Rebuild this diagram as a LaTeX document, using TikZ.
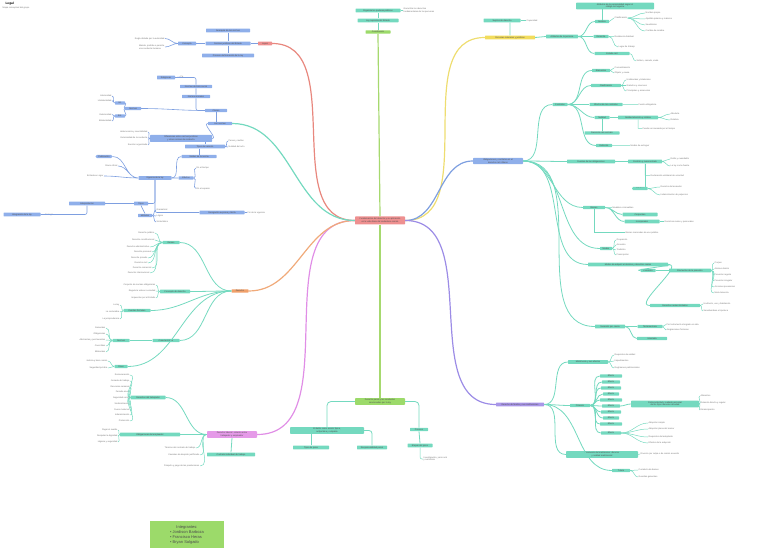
\documentclass[tikz,border=0pt]{standalone}
\usepackage{fontspec}
\setmainfont{Liberation Sans}
\usetikzlibrary{positioning}
\definecolor{tealc}{HTML}{74D9BF}
\definecolor{bluec}{HTML}{8FAFEA}
\definecolor{bluel}{HTML}{7E9FE0}
\definecolor{redc}{HTML}{EE9090}
\definecolor{redl}{HTML}{E8877E}
\definecolor{yelc}{HTML}{F2DC5C}
\definecolor{yell}{HTML}{EEDD70}
\definecolor{purc}{HTML}{A996E8}
\definecolor{purl}{HTML}{9C8CE6}
\definecolor{vioc}{HTML}{E59AE8}
\definecolor{viol}{HTML}{E08EE6}
\definecolor{orac}{HTML}{F0A06A}
\definecolor{oral}{HTML}{F0AA7A}
\definecolor{grec}{HTML}{9CDA6A}
\definecolor{grel}{HTML}{A6D96E}
\tikzset{
  tx/.style={font=\fontsize{2.2}{2.7}\selectfont},
  box/.style={tx, inner sep=0.9pt, rounded corners=0.6pt, text=black!70, align=center},
  tnode/.style={box, fill=tealc},
  bnode/.style={box, fill=bluec},
  leaf/.style={tx, inner sep=0.5pt, text=black!55, align=left},
  mainl/.style={line width=1.2pt},
  tline/.style={draw=tealc, line width=0.8pt},
  bline/.style={draw=bluel, line width=0.6pt},
  lline/.style={draw=tealc, line width=0.5pt},
}
\begin{document}
\begin{tikzpicture}[x=1pt,y=-1pt]
\useasboundingbox (0,0) rectangle (768,553);

% title
\node[tx, font=\fontsize{3.2}{3.8}\selectfont\bfseries, anchor=west] (tit) at (2,3.5) {Legal};
\node[leaf, anchor=west] (sub) at (2,7.5) {Mapa conceptual del grupo};

% center
\node[box, fill=redc, minimum width=50, minimum height=8] (c) at (380,220.5) {Fundamentos del derecho y su aplicaci\'on\\en la vida diaria del ciudadano com\'un};

% ---- red branch
\node[box, fill=redc, minimum width=14] (r1) at (265,43.5) {Leyes};
\node[bnode, minimum width=45] (r2) at (228,43.5) {Normas jur\'idicas del Estado};
\node[bnode, minimum width=44] (r3) at (228,30.5) {Jerarqu\'ia de las normas};
\node[bnode, minimum width=52] (r4) at (228,55.5) {Proceso de formaci\'on de la ley};
\node[bnode, minimum width=18] (r5) at (187,43.5) {Concepto};
\node[leaf, anchor=east] (r6) at (165,38.5) {Regla dictada por la autoridad};
\node[leaf, anchor=east] (r7) at (165,47) {Manda, proh\'ibe o permite\\una conducta humana};
\draw[redl, mainl] (c.west) to[out=180,in=0] (r1.east);
\draw[bline] (r1.west) -- (r2.east) (r3.south) -- (r2.north) (r2.south) -- (r4.north) (r2.west) -- (r5.east);
\draw[bline] (r5.west) to[out=180,in=0] (r6.east) (r5.west) to[out=180,in=0] (r7.east);

% ---- green branch (top)
\node[box, fill=grec, minimum width=25] (g1) at (378,32) {Constituci\'on};
\node[tnode, minimum width=41] (g2) at (378,20.5) {Ley suprema del Estado};
\node[tnode, minimum width=45] (g3) at (378,10.5) {Organiza los poderes p\'ublicos};
\node[leaf, anchor=west] (g4) at (403,10.5) {Garantiza los derechos\\fundamentales de las personas};
\draw[grel, mainl] (c.north) -- (g1.south);
\draw[tline] (g1.north) -- (g2.south) (g2.north) -- (g3.south);
\draw[lline] (g3.east) -- (g4.west);

% ---- yellow branch
\node[box, fill=yelc, minimum width=50] (y1) at (510,37.5) {Personas naturales y jur\'idicas};
\node[tnode, minimum width=37] (y2) at (502,20.5) {Sujetos de derecho};
\node[leaf, anchor=west] (y2l) at (526,20.5) {Capacidad};
\node[tnode, minimum width=32] (y3) at (562,36.5) {Atributos de la persona};
\node[tnode, minimum width=14] (y4) at (602,21.5) {Nombre};
\node[tnode, minimum width=78, minimum height=6] (y5) at (615,6) {Atributos de la personalidad seg\'un el\\c\'odigo civil vigente};
\node[leaf, anchor=west] (y4a) at (614,18) {Clasificaci\'on};
\foreach \n/\y/\t in {a/13/{Nombre propio},b/19/{Apellido paterno y materno},c/25/{Seud\'onimo},d/31/{Cambio de nombre}}
  \node[leaf, anchor=west] (y4\n l) at (645,\y) {\t};
\node[tnode, minimum width=15] (y6) at (601,36.5) {Domicilio};
\node[leaf, anchor=west] (y6a) at (614,36.5) {Residencia habitual};
\node[leaf, anchor=west] (y6b) at (618,47) {Lugar de trabajo};
\node[tnode, minimum width=35] (y7) at (612,53.5) {Estado civil};
\node[leaf, anchor=west] (y7a) at (636,61) {Soltero, casado, viudo};
\draw[yell, mainl] (c.east) to[out=0,in=180] (y1.west);
\draw[tline] (y1.north) -- (y1.north |- y2.south) (y1.east) -- (y3.west);
\draw[lline] (y2.east) -- (y2l.west);
\draw[tline] (y3.east) to[out=0,in=180] (y4.west) (y3.east) -- (y6.west) (y3.east) to[out=0,in=180] (y7.west);
\draw[tline] (y4.north) -- (y4.north |- y5.south);
\draw[lline] (y4.east) -- (y4a.west) (y6.east) -- (y6a.west) (y6.east) to[out=0,in=180] (y6b.west) (y7.east) to[out=0,in=180] (y7a.west);
\foreach \n in {a,b,c,d} \draw[lline] (y4a.east) to[out=0,in=180] (y4\n l.west);

% ---- blue branch (right)
\node[bnode, minimum width=50, minimum height=5.5] (bb) at (498,161) {Obligaciones y contratos en el\\derecho civil chileno};
\node[tnode, minimum width=15] (k1) at (560,104.5) {Contratos};
\node[tnode, minimum width=18] (k7) at (601,70.5) {Elementos};
\node[leaf, anchor=west] (k7a) at (614,68) {Consentimiento};
\node[leaf, anchor=west] (k7b) at (614,73) {Objeto y causa};
\node[tnode, minimum width=30] (k8) at (606,85.5) {Clasificaci\'on};
\foreach \n/\y/\t in {a/80/{Unilaterales y bilaterales},b/85.5/{Gratuitos y onerosos},c/91/{Principales y accesorios}}
  \node[leaf, anchor=west] (k8\n) at (626,\y) {\t};
\node[tnode, minimum width=33] (k2) at (606,104.5) {Efectos de los contratos};
\node[leaf, anchor=west] (k2a) at (638,104.5) {Fuerza obligatoria};
\node[tnode, minimum width=15] (k3) at (602,117.5) {Nulidad};
\node[tnode, minimum width=40] (k4) at (638,117.5) {Nulidad absoluta y relativa};
\node[leaf, anchor=west] (k4a) at (670,114) {Absoluta};
\node[leaf, anchor=west] (k4b) at (670,120) {Relativa};
\node[leaf, anchor=west] (k4c) at (642,128.5) {Puede ser saneada por el tiempo};
\node[tnode, minimum width=35] (k5) at (602,133) {Rescisi\'on del contrato};
\node[tnode, minimum width=16] (k6) at (604,145.5) {Extinci\'on};
\node[leaf, anchor=west] (k6a) at (630,145.5) {Modos de extinguir};
\node[tnode, minimum width=48] (k9) at (591,161.5) {Fuentes de las obligaciones};
\node[tnode, minimum width=34] (k10) at (645,161.5) {Contrato y cuasicontrato};
\node[leaf, anchor=west] (k10a) at (670,159) {Delito y cuasidelito};
\node[leaf, anchor=west] (k10b) at (670,166) {La ley como fuente};
\node[leaf, anchor=west] (k10c) at (650,175.5) {Declaraci\'on unilateral de voluntad};
\node[tnode, minimum width=15] (k11) at (640,188.5) {Efectos};
\node[leaf, anchor=west] (k11a) at (660,187) {Derecho del acreedor};
\node[leaf, anchor=west] (k11b) at (660,195) {Indemnizaci\'on de perjuicios};
\node[tnode, minimum width=22] (k12) at (594,207.5) {Bienes};
\node[leaf, anchor=west] (k13) at (612,207.5) {Muebles e inmuebles};
\node[tnode, minimum width=35] (k14) at (640,214.5) {Corporales};
\node[tnode, minimum width=35] (k15) at (642,221.5) {Incorporales};
\node[leaf, anchor=west] (k15a) at (664,221.5) {Derechos reales y personales};
\node[leaf, anchor=west] (k15b) at (625,232.5) {Bienes nacionales de uso p\'ublico};
\node[tnode, minimum width=80] (k16) at (628,264.5) {Modos de adquirir el dominio y derechos reales};
\node[tnode, minimum width=12] (k17) at (606,248.5) {Modos};
\foreach \n/\y/\t in {a/240/{Ocupaci\'on},b/245/{Accesi\'on},c/250/{Tradici\'on},d/255/{Prescripci\'on}}
  \node[leaf, anchor=west] (k17\n) at (616,\y) {\t};
\node[tnode, minimum width=15] (k18) at (648,270.5) {Posesi\'on};
\node[tnode, minimum width=42] (k19) at (690,270.5) {Elementos de la posesi\'on};
\foreach \n/\y/\t in {a/263/{Corpus},b/269/{Animus domini},c/275/{Posesi\'on regular},d/281/{Posesi\'on irregular},e/287/{Acciones posesorias},f/293/{Mera tenencia}}
  \node[leaf, anchor=west] (k19\n) at (714,\y) {\t};
\node[tnode, minimum width=50] (k20) at (675,305.5) {Derechos reales limitados};
\node[leaf, anchor=west] (k20a) at (703,304) {Usufructo, uso y habitaci\'on};
\node[leaf, anchor=west] (k20b) at (703,311) {Servidumbres e hipoteca};
\node[tnode, minimum width=30] (k21) at (610,326.5) {Sucesi\'on por causa};
\node[tnode, minimum width=25] (k22) at (650,326.5) {Testamentaria};
\node[leaf, anchor=west] (k22a) at (666,324.5) {Por testamento otorgado en vida};
\node[leaf, anchor=west] (k22b) at (666,330) {Asignaciones forzosas};
\node[tnode, minimum width=30] (k23) at (652,338.5) {Intestada};
\draw[bluel, mainl] (c.east) to[out=0,in=180] (bb.west);
\foreach \k in {k1,k9,k12,k16,k17,k21} \draw[tline] (bb.east) to[out=0,in=180] (\k.west);
\foreach \k in {k7,k8,k2,k3,k6} \draw[tline] (k1.east) to[out=0,in=180] (\k.west);
\draw[tline] (k3.east) -- (k4.west) (k3.south) -- (k5.north) (k9.east) -- (k10.west) (k10.south) |- (k11.west);
\draw[tline] (k12.east) to[out=0,in=180] (k14.west) (k12.east) to[out=0,in=180] (k15.west);
\draw[tline] (k16.east) to[out=0,in=180] (k18.west) (k16.east) to[out=0,in=180] (k20.west) (k18.east) -- (k19.west);
\draw[tline] (k21.east) -- (k22.west) (k21.east) to[out=0,in=180] (k23.west);
\draw[lline] (k7.east) to[out=0,in=180] (k7a.west) (k7.east) to[out=0,in=180] (k7b.west);
\foreach \n in {a,b,c} \draw[lline] (k8.east) to[out=0,in=180] (k8\n.west);
\draw[lline] (k2.east) -- (k2a.west) (k4.east) to[out=0,in=180] (k4a.west) (k4.east) to[out=0,in=180] (k4b.west) (k4.south) |- (k4c.west);
\draw[lline] (k6.east) -- (k6a.west) (k10.east) to[out=0,in=180] (k10a.west) (k10.east) to[out=0,in=180] (k10b.west) (k10.south) |- (k10c.west);
\draw[lline] (k11.east) to[out=0,in=180] (k11a.west) (k11.east) to[out=0,in=180] (k11b.west) (k12.east) -- (k13.west);
\draw[lline] (k15.east) -- (k15a.west) (k12.south) |- (k15b.west);
\foreach \n in {a,b,c,d} \draw[lline] (k17.east) to[out=0,in=180] (k17\n.west);
\foreach \n in {a,b,c,d,e,f} \draw[lline] (k19.east) to[out=0,in=180] (k19\n.west);
\draw[lline] (k20.east) to[out=0,in=180] (k20a.west) (k20.east) to[out=0,in=180] (k20b.west);
\draw[lline] (k22.east) to[out=0,in=180] (k22a.west) (k22.east) to[out=0,in=180] (k22b.west);

% ---- purple branch (right)
\node[box, fill=purc, minimum width=48] (pp) at (520,404.5) {Derecho de familia y sus instituciones};
\node[tnode, minimum width=40] (q1) at (588,362) {Matrimonio y sus efectos};
\foreach \n/\y/\t in {a/355/{Requisitos de validez},b/361/{Impedimentos},c/368/{Reg\'imenes patrimoniales}}
  \node[leaf, anchor=west] (q1\n) at (614,\y) {\t};
\node[tnode, minimum width=20] (q2) at (580,405.5) {Filiaci\'on};
\foreach \n/\y/\w in {a/376/22,b/382/18,c/388/20,d/394/16,e/400/22,f/406/18,g/412/20,h/418/16,i/424/22,j/433/20}
  \node[tnode, minimum width=\w] (q2\n) at (611,\y) {Efecto};
\node[tnode, minimum width=68, minimum height=5.5] (q3) at (665,404) {Patria potestad y cuidado personal\\de los hijos menores de edad};
\foreach \n/\y/\t in {a/396/{Alimentos},b/403/{Relaci\'on directa y regular},c/410/{Emancipaci\'on}}
  \node[leaf, anchor=west] (q3\n) at (700,\y) {\t};
\foreach \n/\y/\t in {a/423/{Adopci\'on simple},b/429/{Adopci\'on plena del menor},c/437/{Requisitos del adoptante},d/443/{Efectos de la adopci\'on}}
  \node[leaf, anchor=west] (q4\n) at (648,\y) {\t};
\node[tnode, minimum width=72, minimum height=5.5] (q5) at (602,454.5) {Disoluci\'on del matrimonio: divorcio\\y nulidad matrimonial};
\node[leaf, anchor=west] (q5a) at (640,454) {Divorcio por culpa o de com\'un acuerdo};
\node[tnode, minimum width=18] (q6) at (621,470.5) {Tutela};
\node[leaf, anchor=west] (q6a) at (638,470) {Curadur\'ia de bienes};
\node[leaf, anchor=west] (q6b) at (638,477) {Guardas generales};
\draw[purl, mainl] (c.east) to[out=0,in=180] (pp.west);
\foreach \k in {q1,q2,q5,q6} \draw[tline] (pp.east) to[out=0,in=180] (\k.west);
\foreach \n in {a,b,c,d,e,f,g,h,i,j} \draw[tline] (q2.east) to[out=0,in=180] (q2\n.west);
\draw[tline] (q2f.east) to[out=0,in=180] (q3.west);
\foreach \n in {a,b,c} \draw[lline] (q1.east) to[out=0,in=180] (q1\n.west);
\foreach \n in {a,b,c} \draw[lline] (q3.east) to[out=0,in=180] (q3\n.west);
\foreach \n in {a,b,c,d} \draw[lline] (q2j.east) to[out=0,in=180] (q4\n.west);
\draw[lline] (q5.east) -- (q5a.west) (q6.east) to[out=0,in=180] (q6a.west) (q6.east) to[out=0,in=180] (q6b.west);

% ---- green branch (bottom)
\node[box, fill=grec, minimum width=50, minimum height=6] (s1) at (380,401.5) {Derecho penal y las conductas\\sancionadas por la ley};
\node[tnode, minimum width=74, minimum height=5.5] (s2) at (327,430.5) {El delito como acci\'on t\'ipica,\\antijur\'idica y culpable};
\node[tnode, minimum width=36] (s4) at (311,447.5) {Tipos de pena};
\node[tnode, minimum width=30] (s3) at (372,447.5) {Responsabilidad penal};
\node[tnode, minimum width=18] (s5) at (419,429.5) {Proceso};
\node[tnode, minimum width=25] (s6) at (420,445.5) {Etapas del juicio};
\node[leaf, anchor=west] (s7) at (423,459) {Investigaci\'on, juicio oral\\y sentencia};
\draw[grel, mainl] (c.south) -- (s1.north);
\draw[tline, rounded corners=4] (s1.west) -| (s2.north);
\draw[tline, rounded corners=4] (s1.east) -| (s5.north);
\draw[tline, rounded corners=3] (s2.east) -| (s3.north);
\draw[tline] (s2.south -| s4.north) -- (s4.north);
\draw[tline] (s5.south) -- (s6.north);
\draw[lline, rounded corners=2] (s6.south) |- (s7.west);

% ---- violet branch
\node[box, fill=vioc, minimum width=50, minimum height=6.5] (vv) at (232,434.5) {Derecho laboral: relaci\'on entre\\trabajador y empleador};
\node[tnode, minimum width=48] (v1) at (231,454.5) {Contrato individual de trabajo};
\node[tnode, minimum width=35] (v2) at (148,397.5) {Derechos del trabajador};
\foreach \n/\y/\t in {a/375/{Remuneraci\'on},b/381/{Jornada de trabajo},c/387/{Descanso semanal},d/392/{Feriado anual},e/398/{Seguridad social},f/404/{Sindicalizaci\'on},g/410/{Fuero maternal},h/415/{Indemnizaci\'on},i/421/{Protecci\'on}}
  \node[leaf, anchor=east] (v2\n) at (130,\y) {\t};
\node[tnode, minimum width=60] (v3) at (150,434.5) {Obligaciones del empleador};
\foreach \n/\y/\t in {a/430/{Pagar el sueldo},b/436/{Respetar la dignidad},c/442/{Higiene y seguridad}}
  \node[leaf, anchor=east] (v3\n) at (118,\y) {\t};
\node[leaf, anchor=east] (v4) at (196,448) {T\'ermino del contrato de trabajo};
\node[leaf, anchor=east] (v5) at (200,455) {Causales de despido justificado};
\node[leaf, anchor=east] (v6) at (200,466) {Finiquito y pago de las prestaciones};
\draw[viol, mainl] (c.west) to[out=180,in=0] (vv.east);
\draw[tline] (vv.south) -- (v1.north);
\foreach \k in {v2,v3} \draw[tline] (vv.west) to[out=180,in=0] (\k.east);
\foreach \k in {v4,v5,v6} \draw[lline] (vv.west) to[out=180,in=0] (\k.east);
\foreach \n in {a,b,c,d,e,f,g,h,i} \draw[lline] (v2.west) to[out=180,in=0] (v2\n.east);
\foreach \n in {a,b,c} \draw[lline] (v3.west) to[out=180,in=0] (v3\n.east);

% ---- orange branch
\node[box, fill=orac, minimum width=17] (oo) at (240,291) {Derecho};
\node[tnode, minimum width=17] (o1) at (171,242.5) {Ramas};
\foreach \n/\y/\x/\t in {a/233/155/{Derecho p\'ublico},b/240/155/{Derecho constitucional},c/247/150/{Derecho administrativo},d/252/152/{Derecho procesal},e/258/148/{Derecho privado},f/263/148/{Derecho civil},g/268/152/{Derecho comercial},h/273/150/{Derecho internacional}}
  \node[leaf, anchor=east] (o1\n) at (\x,\y) {\t};
\node[tnode, minimum width=30] (o2) at (175,291.5) {Concepto de derecho};
\foreach \n/\y/\t in {a/285/{Conjunto de normas obligatorias},b/291/{Regula la vida en sociedad},c/298/{Impuestas por el Estado}}
  \node[leaf, anchor=east] (o2\n) at (156,\y) {\t};
\node[tnode, minimum width=27] (o3) at (137,310.5) {Fuentes formales};
\foreach \n/\y/\t in {a/305/{La ley},b/312/{La costumbre},c/319/{La jurisprudencia}}
  \node[leaf, anchor=east] (o3\n) at (120,\y) {\t};
\node[tnode, minimum width=27] (o4) at (166,340.5) {Caracter\'isticas};
\node[tnode, minimum width=17] (o5) at (121,340.5) {Normas};
\foreach \n/\y/\t in {a/328/{Generales},b/334/{Obligatorias},c/340/{Abstractas y permanentes},d/346/{Coercibles},e/352/{Bilaterales}}
  \node[leaf, anchor=east] (o5\n) at (106,\y) {\t};
\node[tnode, minimum width=13] (o6) at (121,366.5) {Fines};
\node[leaf, anchor=east] (o6a) at (108,361) {Justicia y bien com\'un};
\node[leaf, anchor=east] (o6b) at (108,368) {Seguridad jur\'idica};
\draw[oral, mainl] (c.west) to[out=180,in=0] (oo.east);
\foreach \k in {o1,o2,o3,o4,o6} \draw[tline] (oo.west) to[out=180,in=0] (\k.east);
\draw[tline] (o4.west) -- (o5.east);
\foreach \n in {a,b,c,d,e,f,g,h} \draw[lline] (o1.west) to[out=180,in=0] (o1\n.east);
\foreach \n in {a,b,c} \draw[lline] (o2.west) to[out=180,in=0] (o2\n.east);
\foreach \n in {a,b,c} \draw[lline] (o3.west) to[out=180,in=0] (o3\n.east);
\foreach \n in {a,b,c,d,e} \draw[lline] (o5.west) to[out=180,in=0] (o5\n.east);
\draw[lline] (o6.west) to[out=180,in=0] (o6a.east) (o6.west) to[out=180,in=0] (o6b.east);

% ---- upper-left branch (blue sub map)
\node[bnode, minimum width=24] (uu) at (220,123.5) {Las normas};
\node[bnode, minimum width=22] (u1) at (216,110.5) {Clases};
\node[bnode, minimum width=28] (u2) at (196,96.5) {Normas morales};
\node[bnode, minimum width=32] (u3) at (196,86.5) {Normas de trato social};
\node[bnode, minimum width=18] (u4) at (166,77.5) {Religiosas};
\node[leaf, anchor=west] (u4a) at (180,77) {Fe};
\node[bnode, minimum width=16] (u5) at (133,108.5) {Normas};
\node[bnode, minimum width=10] (u6) at (120,103) {Int.};
\node[bnode, minimum width=10] (u7) at (120,116) {Ext.};
\node[leaf, anchor=east] (u6a) at (112,96) {Interioridad};
\node[leaf, anchor=east] (u6b) at (112,100.5) {Unilateralidad};
\node[leaf, anchor=east] (u7a) at (112,114.5) {Exterioridad};
\node[leaf, anchor=east] (u7b) at (112,121) {Bilateralidad};
\node[bnode, minimum width=62, minimum height=7] (u8) at (181,138.5) {Diferencias entre normas jur\'idicas\\y otras normas de conducta};
\foreach \n/\y/\t in {a/132/{Heteronom\'ia y coercibilidad},b/138/{Exterioridad de la conducta},c/145/{Sanci\'on organizada}}
  \node[leaf, anchor=east] (u8\n) at (148,\y) {\t};
\node[bnode, minimum width=40] (u9) at (205,146.5) {Tipos de sanci\'on};
\node[leaf, anchor=west] (u9a) at (228,141) {Penas y multas};
\node[leaf, anchor=west] (u9b) at (228,147) {Nulidad del acto};
\node[bnode, minimum width=35] (u10) at (199,156.5) {Validez de la norma};
\node[bnode, minimum width=33] (u11) at (155,178) {Vigencia de la ley};
\node[bnode, rounded corners=1.5pt, minimum width=17] (u12) at (104,156.5) {Publicaci\'on};
\node[leaf, anchor=east] (u13) at (118,166) {Diario oficial};
\node[leaf, anchor=east] (u14) at (104,176) {Entrada en vigor};
\node[bnode, minimum width=15] (u15) at (186,178) {Efectos};
\node[leaf, anchor=west] (u15a) at (196,168) {En el tiempo};
\node[leaf, anchor=west] (u15b) at (196,188.5) {En el espacio};
\node[bnode, minimum width=45] (u16) at (222,212.5) {Derogaci\'on expresa y t\'acita};
\node[leaf, anchor=west] (u16a) at (247,212.5) {Fin de la vigencia};
\node[bnode, minimum width=14] (u17) at (141,203.5) {Tipos};
\node[bnode, minimum width=36] (u18) at (87,203.5) {Interpretaci\'on};
\node[bnode, minimum width=14] (u19) at (145,215.5) {M\'etodos};
\foreach \n/\y/\t in {a/210/{Gramatical},b/216/{L\'ogico},c/222/{Sistem\'atico}}
  \node[leaf, anchor=west] (u19\n) at (156,\y) {\t};
\node[bnode, minimum width=37] (u20) at (22,214.5) {Integraci\'on de la ley};
\node[leaf, anchor=west] (u20a) at (44,214.5) {Analog\'ia};
\draw[tealc, mainl] (c.west) to[out=180,in=0] (uu.east);
\draw[bline] (uu.north -| u1.south) -- (u1.south);
\draw[bline, rounded corners=2] (u1.west) -| (u2.south) (u2.north) -- (u3.south) (u3.north) |- (u4.east);
\draw[bline] (u4.east) -- (u4a.west);
\draw[bline] (u1.west) to[out=180,in=0] (u5.east) (u5.west) to[out=180,in=0] (u6.east) (u5.west) to[out=180,in=0] (u7.east);
\draw[bline] (u6.west) to[out=180,in=0] (u6a.east) (u6.west) to[out=180,in=0] (u6b.east) (u7.west) to[out=180,in=0] (u7a.east) (u7.west) to[out=180,in=0] (u7b.east);
\draw[bline] (uu.west) to[out=180,in=0] (u8.east);
\foreach \n in {a,b,c} \draw[bline] (u8.west) to[out=180,in=0] (u8\n.east);
\draw[bline] (u8.south -| u9.north) -- (u9.north) (u9.south -| u10.north) -- (u10.north);
\draw[bline] (u9.east) to[out=0,in=180] (u9a.west) (u9.east) to[out=0,in=180] (u9b.west);
\draw[bline] (u10.west) to[out=180,in=0] (u11.east);
\draw[bline] (u11.west) to[out=180,in=0] (u12.east) (u11.west) to[out=180,in=0] (u13.east) (u11.west) to[out=180,in=0] (u14.east);
\draw[bline] (u11.east) -- (u15.west) (u15.east) to[out=0,in=180] (u15a.west) (u15.east) to[out=0,in=180] (u15b.west);
\draw[bline, rounded corners=2] (u11.south) |- (u16.west) (u16.east) -- (u16a.west);
\draw[bline, rounded corners=2] (u11.south) |- (u17.east) (u17.west) -- (u18.east) (u17.south) -- (u19.north);
\foreach \n in {a,b,c} \draw[bline] (u19.east) to[out=0,in=180] (u19\n.west);
\draw[bline, rounded corners=2] (u18.south) |- (u20.east);
\draw[bline] (u20.east) -- (u20a.west);

% legend
\node[fill=grec, minimum width=74, minimum height=26, font=\fontsize{4}{5}\selectfont, text=black!70] (leg) at (187,534.5) {\begin{tabular}{@{}l@{}}\multicolumn{1}{c}{Integrantes:}\\ \textbullet\ Jordison Barboza\\ \textbullet\ Francisco Heras\\ \textbullet\ Bryan Salgado\end{tabular}};

\end{tikzpicture}
\end{document}
